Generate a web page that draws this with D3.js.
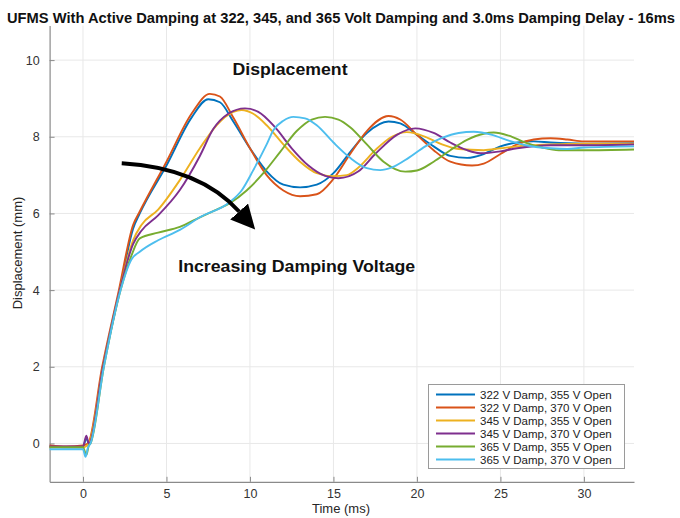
<!DOCTYPE html>
<html><head><meta charset="utf-8">
<script src="https://cdn.jsdelivr.net/npm/d3@7"></script>
<style>
html,body{margin:0;padding:0;background:#fff;}
svg text{font-family:"Liberation Sans",Arial,Helvetica,sans-serif;}
</style></head>
<body><svg id="c" width="680" height="518"></svg>
<script>
const titleText = "UFMS With Active Damping at 322, 345, and 365 Volt Damping and 3.0ms Damping Delay - 16ms";
const xLabel = "Time (ms)";
const yLabel = "Displacement (mm)";
const xTicks = [0, 5, 10, 15, 20, 25, 30];
const yTicks = [0, 2, 4, 6, 8, 10];
const seriesNames = ["322 V Damp, 355 V Open","322 V Damp, 370 V Open","345 V Damp, 355 V Open","345 V Damp, 370 V Open","365 V Damp, 355 V Open","365 V Damp, 370 V Open"];
const seriesColors = ["#0072BD","#D95319","#EDB120","#7E2F8E","#77AC30","#4DBEEE"];

const blue322_355 = [[-2,-0.08],[-1,-0.1],[0,-0.1],[0.2,0.15],[0.33,0],[1.2,2.0],[2.2,4.0],[3.0,5.6],[3.4,6.0],[5,7.25],[6.5,8.5],[7.5,8.98],[8.2,8.9],[9,8.4],[10,7.7],[11,7.1],[12,6.75],[13,6.68],[14,6.75],[15,7.05],[16,7.6],[17,8.1],[18.3,8.4],[19,8.35],[20,8.05],[21,7.75],[22,7.5],[23,7.45],[24,7.55],[25,7.75],[26,7.85],[27,7.88],[28,7.85],[30,7.82],[33,7.83]];
const red322_370 = [[-2,-0.05],[-1,-0.08],[0,-0.05],[0.3,0],[1.15,2.0],[2.15,4.0],[3.0,5.7],[3.4,6.05],[5,7.35],[6.5,8.6],[7.6,9.12],[8.2,9.05],[9,8.5],[10,7.7],[11,7.0],[12,6.6],[13,6.45],[14,6.5],[15,6.9],[16,7.55],[17,8.15],[18.3,8.54],[19,8.45],[20,8.05],[21,7.65],[22,7.35],[23.3,7.25],[24,7.3],[25,7.55],[26,7.8],[27,7.93],[28,7.96],[29,7.93],[30,7.88],[33,7.88]];
const yellow345_355 = [[-2,-0.1],[0,-0.1],[0.35,0],[1.2,2],[2.2,4],[3.0,5.3],[3.5,5.7],[4.5,6.1],[5.8,6.87],[7,7.7],[8,8.3],[9,8.65],[9.5,8.7],[10.2,8.6],[11,8.3],[12,7.8],[13,7.35],[14,7.05],[15,6.97],[15.8,7.0],[16.5,7.2],[17.5,7.65],[18.5,8.0],[19.4,8.12],[20.5,8.0],[21.5,7.8],[22.5,7.68],[24,7.65],[25,7.7],[26,7.75],[28,7.8],[30,7.82],[33,7.82]];
const purple345_370 = [[-2,-0.08],[0,-0.08],[0.2,0.2],[0.35,0],[1.2,2],[2.2,4],[3.0,5.2],[3.5,5.55],[4.5,5.95],[5.8,6.61],[7,7.5],[7.8,8.2],[8.7,8.6],[9.7,8.74],[10.5,8.65],[11.5,8.25],[12.5,7.7],[13.5,7.25],[14.5,6.98],[15.3,6.92],[16.5,7.1],[17.5,7.55],[18.8,8.05],[19.9,8.22],[21,8.1],[22,7.85],[23,7.65],[23.8,7.57],[25,7.62],[26,7.7],[28,7.78],[30,7.78],[33,7.8]];
const green365_355 = [[-2,-0.1],[0,-0.1],[0.2,-0.3],[0.35,-0.05],[0.45,0],[1.25,2],[2.25,4],[2.9,4.9],[3.4,5.35],[4.5,5.5],[5.8,5.65],[7,5.9],[8,6.1],[8.8,6.27],[9.8,6.6],[10.8,7.05],[11.8,7.6],[12.8,8.15],[13.7,8.45],[14.5,8.52],[15.3,8.45],[16,8.25],[17,7.8],[18,7.35],[19.3,7.09],[20,7.12],[21,7.35],[22,7.65],[23,7.92],[24,8.08],[24.6,8.11],[25.5,8.03],[26.5,7.85],[27.5,7.72],[28.5,7.65],[30,7.65],[33,7.67]];
const cyan365_370 = [[-2,-0.15],[0,-0.15],[0.15,-0.35],[0.3,-0.1],[0.45,0],[1.25,2],[2.25,4],[2.9,4.8],[3.4,5.0],[4.5,5.3],[5.8,5.57],[7,5.9],[8.8,6.3],[9.5,6.6],[10.2,7.13],[11,7.8],[11.4,8.17],[12,8.42],[12.6,8.52],[13.3,8.48],[14,8.3],[15,7.85],[16,7.45],[17,7.18],[17.8,7.13],[18.5,7.2],[19.5,7.45],[20.5,7.75],[21.5,7.97],[22.5,8.1],[23.4,8.13],[24.5,8.05],[25.5,7.9],[26.5,7.78],[28,7.7],[29,7.68],[30,7.72],[33,7.75]];
const allSeries = [blue322_355, red322_370, yellow345_355, purple345_370, green365_355, cyan365_370];

const svg = d3.select("#c");
const x = d3.scaleLinear().domain([-2, 33]).range([49.6, 634]);
const y = d3.scaleLinear().domain([-1, 10.9]).range([481.8, 25.6]);

// grid
svg.append("g").selectAll("line").data(xTicks).join("line")
  .attr("x1", d => x(d)).attr("x2", d => x(d)).attr("y1", y(-1)).attr("y2", y(10.9))
  .attr("stroke", "#e8e8e8").attr("stroke-width", 1);
svg.append("g").selectAll("line").data(yTicks).join("line")
  .attr("y1", d => y(d)).attr("y2", d => y(d)).attr("x1", x(-2)).attr("x2", x(33))
  .attr("stroke", "#e8e8e8").attr("stroke-width", 1);

// axes
const xAxis = d3.axisBottom(x).tickValues(xTicks).tickSize(-5).tickPadding(7).tickSizeOuter(0);
const yAxis = d3.axisLeft(y).tickValues(yTicks).tickSize(-5).tickPadding(10).tickSizeOuter(0);
const gx = svg.append("g").attr("transform", `translate(0,${y(-1)})`).call(xAxis);
const gy = svg.append("g").attr("transform", `translate(${x(-2)},0)`).call(yAxis);
[gx, gy].forEach(g => {
  g.select(".domain").attr("stroke", "#8a8a8a").attr("stroke-width", 1.2);
  g.selectAll(".tick line").attr("stroke", "#8a8a8a");
  g.selectAll(".tick text").attr("fill", "#333").style("font-size", "12.5px")
    .style("font-family", '"Liberation Sans",Arial,sans-serif');
});

// lines
const line = d3.line().x(d => x(d[0])).y(d => y(d[1])).curve(d3.curveMonotoneX);
svg.append("g").selectAll("path").data(allSeries).join("path")
  .attr("d", line).attr("fill", "none")
  .attr("stroke", (d, i) => seriesColors[i]).attr("stroke-width", 1.9)
  .attr("stroke-linejoin", "round");

// title & labels
svg.append("text").attr("x", 341).attr("y", 23).attr("text-anchor", "middle")
  .attr("font-weight", "bold").style("font-size", "14px").attr("fill", "#111")
  .attr("textLength", 668).attr("lengthAdjust", "spacingAndGlyphs").text(titleText);
svg.append("text").attr("x", 341).attr("y", 513).attr("text-anchor", "middle")
  .style("font-size", "13px").attr("fill", "#262626").text(xLabel);
svg.append("text").attr("transform", "translate(22,253) rotate(-90)").attr("text-anchor", "middle")
  .style("font-size", "13px").attr("fill", "#262626").text(yLabel);

// annotations
svg.append("text").attr("x", x(12.4)).attr("y", y(9.62)).attr("text-anchor", "middle")
  .attr("font-weight", "bold").style("font-size", "16px").attr("fill", "#111")
  .attr("textLength", 115).attr("lengthAdjust", "spacingAndGlyphs").text("Displacement");
svg.append("text").attr("x", x(12.8)).attr("y", y(4.47)).attr("text-anchor", "middle")
  .attr("font-weight", "bold").style("font-size", "16px").attr("fill", "#111")
  .attr("textLength", 237).attr("lengthAdjust", "spacingAndGlyphs").text("Increasing Damping Voltage");

const defs = svg.append("defs");
defs.append("marker").attr("id", "ah").attr("markerUnits", "userSpaceOnUse")
  .attr("markerWidth", 30).attr("markerHeight", 30).attr("refX", 0).attr("refY", 12)
  .attr("orient", "auto").append("path").attr("d", "M0,0 L24,12 L0,24 Z").attr("fill", "#000");
const arrowPts = [[2.32, 7.31], [7.0, 7.19], [9.35, 6.05]];
const ap = d3.path();
ap.moveTo(x(arrowPts[0][0]), y(arrowPts[0][1]));
ap.quadraticCurveTo(x(arrowPts[1][0]), y(arrowPts[1][1]), x(arrowPts[2][0]), y(arrowPts[2][1]));
svg.append("path").attr("d", ap.toString()).attr("fill", "none").attr("stroke", "#000")
  .attr("stroke-width", 4).attr("marker-end", "url(#ah)");

// legend
const lg = svg.append("g");
lg.append("rect").attr("x", 428.5).attr("y", 384.5).attr("width", 196).attr("height", 84)
  .attr("fill", "#fff").attr("stroke", "#9a9a9a").attr("stroke-width", 1);
seriesNames.forEach((n, i) => {
  const yy = 394.5 + i * 13;
  lg.append("line").attr("x1", 436).attr("x2", 475).attr("y1", yy).attr("y2", yy)
    .attr("stroke", seriesColors[i]).attr("stroke-width", 1.8);
  lg.append("text").attr("x", 480).attr("y", yy + 4).style("font-size", "11.5px")
    .attr("fill", "#222").text(n);
});
</script></body></html>
